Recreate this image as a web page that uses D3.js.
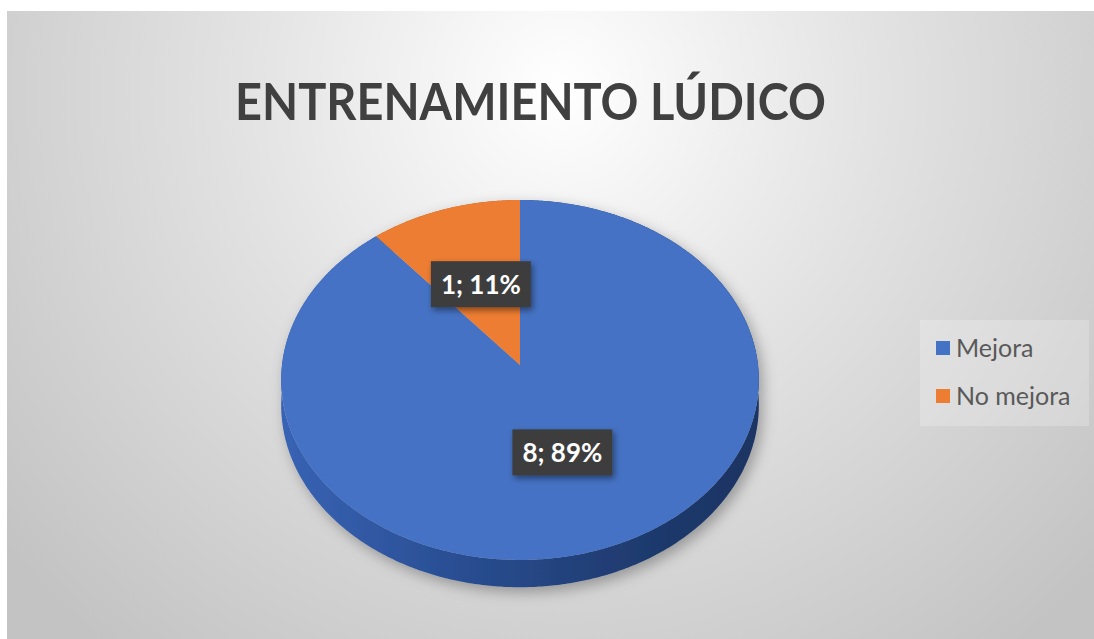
<!DOCTYPE html>
<html lang="es">

<head>
  <meta charset="UTF-8">
  <title>Entrenamiento lúdico</title>
  <script src="https://cdn.jsdelivr.net/npm/d3@7/dist/d3.min.js"></script>
  <style>
    body { margin: 0; background: #fff; }
    svg { display: block; }
  </style>
</head>

<body>
  <svg></svg>

  <script>
    const width = 1094;
    const height = 639;

    // datos del gráfico
    const categories = ["Mejora", "No mejora"];
    const values = [8, 1];
    const colors = ["#4472C4", "#ED7D31"];
    const sideColors = ["#2E5597", "#B65F22"];
    const title = "ENTRENAMIENTO LÚDICO";

    const svg = d3.select("svg")
      .attr("width", width)
      .attr("height", height);

    const defs = svg.append("defs");

    // fondo con degradado radial
    const bg = defs.append("radialGradient")
      .attr("id", "bg")
      .attr("gradientUnits", "userSpaceOnUse")
      .attr("cx", 560).attr("cy", 90).attr("r", 720);
    bg.append("stop").attr("offset", 0).attr("stop-color", "#ffffff");
    bg.append("stop").attr("offset", 0.45).attr("stop-color", "#e2e2e2");
    bg.append("stop").attr("offset", 1).attr("stop-color", "#c3c3c3");

    // lateral del pastel, más oscuro a la derecha
    const side = defs.append("linearGradient")
      .attr("id", "side")
      .attr("gradientUnits", "userSpaceOnUse")
      .attr("x1", 282).attr("x2", 760).attr("y1", 0).attr("y2", 0);
    side.append("stop").attr("offset", 0).attr("stop-color", "#3863b4");
    side.append("stop").attr("offset", 0.35).attr("stop-color", "#2a4f94");
    side.append("stop").attr("offset", 0.75).attr("stop-color", "#1f3a6e");
    side.append("stop").attr("offset", 1).attr("stop-color", "#1c3462");

    const shadow = defs.append("filter").attr("id", "shadow")
      .attr("x", "-20%").attr("y", "-20%").attr("width", "140%").attr("height", "140%");
    shadow.append("feDropShadow")
      .attr("dx", 4).attr("dy", 5).attr("stdDeviation", 7)
      .attr("flood-color", "#000").attr("flood-opacity", 0.3);

    const boxShadow = defs.append("filter").attr("id", "boxShadow")
      .attr("x", "-30%").attr("y", "-40%").attr("width", "160%").attr("height", "180%");
    boxShadow.append("feDropShadow")
      .attr("dx", 2).attr("dy", 3).attr("stdDeviation", 3)
      .attr("flood-color", "#000").attr("flood-opacity", 0.45);

    svg.append("rect")
      .attr("x", 7).attr("y", 11)
      .attr("width", width - 7).attr("height", height - 11)
      .attr("fill", "url(#bg)");

    svg.append("text")
      .attr("x", 235)
      .attr("y", 120)
      .attr("textLength", 591)
      .attr("lengthAdjust", "spacingAndGlyphs")
      .style("font-family", "Lato, 'Open Sans', sans-serif")
      .style("font-weight", 700)
      .style("font-size", "52px")
      .attr("fill", "#404040")
      .text(title);

    // proyección en perspectiva del disco unitario
    const cx = 520, apexY = 365, R = 238, depth = 25;
    const persp = -0.0833, yScale = 148.3;

    function project(a, r, dz = 0) {
      const u = Math.sin(a) * r;
      const v = -Math.cos(a) * r;
      const w = 1 + persp * v;
      return [cx + R * u / w, (yScale * v + apexY) / w + dz / w];
    }

    function rim(a0, a1, dz) {
      const n = Math.max(2, Math.ceil((a1 - a0) / 0.01));
      return d3.range(n + 1).map(i => project(a0 + (a1 - a0) * i / n, 1, dz));
    }

    const pie = d3.pie().sort(null).value(d => d.value);
    const total = d3.sum(values);
    const arcs = pie(categories.map((c, i) => ({ name: c, value: values[i], i })));
    const line = d3.line();

    const gPie = svg.append("g").attr("filter", "url(#shadow)");

    // lateral
    arcs.forEach(d => {
      const top = rim(d.startAngle, d.endAngle, 0);
      const bottom = rim(d.startAngle, d.endAngle, depth).reverse();
      gPie.append("path")
        .attr("d", line(top.concat(bottom)) + "Z")
        .attr("fill", d.data.i === 0 ? "url(#side)" : sideColors[d.data.i]);
    });

    // cara superior
    arcs.forEach(d => {
      const pts = [project(0, 0)].concat(rim(d.startAngle, d.endAngle, 0));
      gPie.append("path")
        .attr("d", line(pts) + "Z")
        .attr("fill", colors[d.data.i]);
    });

    // etiquetas de datos
    arcs.forEach(d => {
      const mid = (d.startAngle + d.endAngle) / 2;
      const [lx, ly] = project(mid, 0.5);
      const pct = Math.round(d.data.value / total * 100);
      const g = svg.append("g").attr("transform", `translate(${lx},${ly})`);
      const rect = g.append("rect").attr("fill", "#3d3d3d").attr("filter", "url(#boxShadow)");
      const t = g.append("text")
        .attr("text-anchor", "middle")
        .attr("dy", "0.36em")
        .style("font-family", "Lato, 'Open Sans', sans-serif")
        .style("font-weight", 700)
        .style("font-size", "26px")
        .attr("fill", "#ffffff")
        .text(`${d.data.value}; ${pct}%`);
      const bb = t.node().getBBox();
      rect.attr("x", -bb.width / 2 - 10).attr("y", -23)
        .attr("width", bb.width + 20).attr("height", 46);
    });

    // leyenda
    const legend = svg.append("g");
    legend.append("rect")
      .attr("x", 920).attr("y", 320)
      .attr("width", 169).attr("height", 106)
      .attr("fill", "#ffffff").attr("fill-opacity", 0.22);

    categories.forEach((c, i) => {
      const y = 348 + i * 48;
      legend.append("rect")
        .attr("x", 936).attr("y", y - 7)
        .attr("width", 14).attr("height", 14)
        .attr("fill", colors[i]);
      legend.append("text")
        .attr("x", 956).attr("y", y)
        .attr("dy", "0.35em")
        .style("font-family", "Lato, 'Open Sans', sans-serif")
        .style("font-size", "25px")
        .attr("fill", "#595959")
        .text(c);
    });
  </script>
</body>

</html>
